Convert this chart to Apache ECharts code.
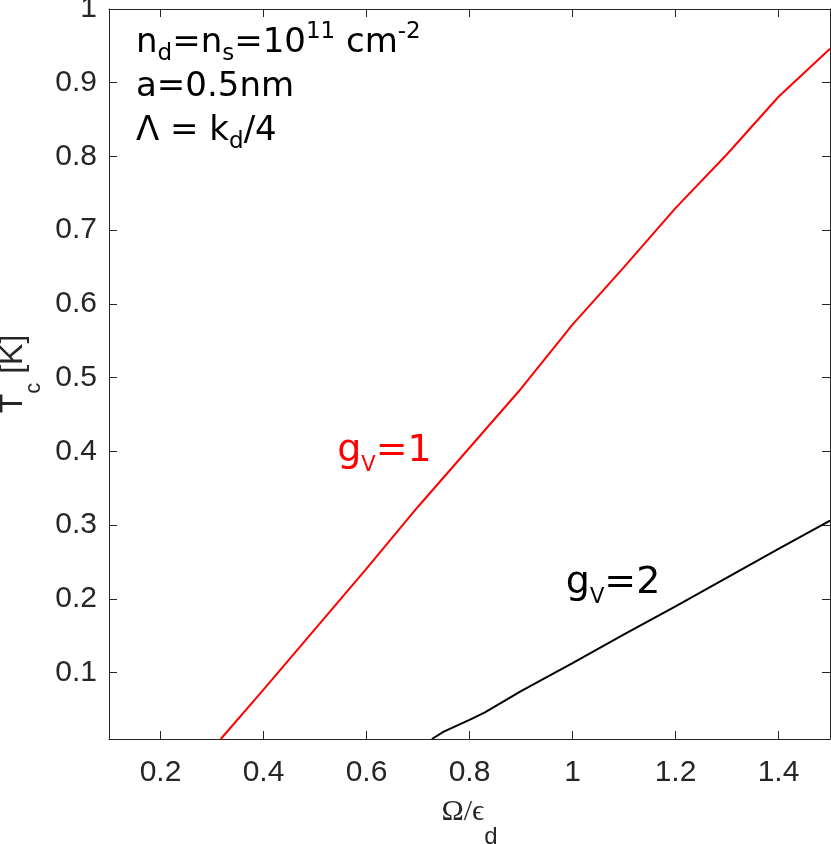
<!DOCTYPE html>
<html>
<head>
<meta charset="utf-8">
<script src="https://cdn.jsdelivr.net/npm/echarts@6/dist/echarts.min.js"></script>
<style>
  html, body { margin: 0; padding: 0; background: #fff; }
  #main { width: 831px; height: 844px; }
</style>
</head>
<body>
<div id="main"></div>
<script>
// g_V = 1 curve (red)
var xRed = [0.317, 0.4, 0.5, 0.6, 0.7, 0.8, 0.9, 1.0, 1.1, 1.2, 1.3, 1.4, 1.5];
var yRed = [0.01, 0.077, 0.159, 0.241, 0.325, 0.405, 0.485, 0.572, 0.65, 0.73, 0.803, 0.881, 0.946];

// g_V = 2 curve (black)
var xBlack = [0.727, 0.75, 0.8, 0.83, 0.9, 1.0, 1.1, 1.2, 1.3, 1.4, 1.5];
var yBlack = [0.01, 0.02, 0.036, 0.046, 0.075, 0.113, 0.152, 0.19, 0.229, 0.268, 0.306];

// tick labels
var xTicks = [0.2, 0.4, 0.6, 0.8, 1, 1.2, 1.4];
var yTicks = [0.1, 0.2, 0.3, 0.4, 0.5, 0.6, 0.7, 0.8, 0.9, 1];

function pairs(xs, ys) {
  return xs.map(function (x, i) { return [x, ys[i]]; });
}

var axisCol = '#262626';
var tickFont = "'Liberation Sans', Arial, Helvetica, sans-serif";
var vFont = "'DejaVu Sans', Verdana, sans-serif";

function xAx(pos, show) {
  return {
    type: 'value', position: pos, min: 0.1, max: 1.5,
    axisLine: { show: true, onZero: false, lineStyle: { color: axisCol, width: 1 } },
    axisTick: { show: true, inside: true, length: 8, customValues: xTicks, lineStyle: { color: axisCol } },
    axisLabel: { show: show, customValues: xTicks, margin: 19, color: axisCol, fontSize: 30, fontFamily: tickFont },
    splitLine: { show: false }
  };
}
function yAx(pos, show) {
  return {
    type: 'value', position: pos, min: 0.01, max: 1,
    axisLine: { show: true, onZero: false, lineStyle: { color: axisCol, width: 1 } },
    axisTick: { show: true, inside: true, length: 8, customValues: yTicks, lineStyle: { color: axisCol } },
    axisLabel: { show: show, customValues: yTicks, margin: 12, color: axisCol, fontSize: 30, fontFamily: tickFont },
    splitLine: { show: false }
  };
}

var xMain = xAx('bottom', true);
xMain.name = '{o|Ω/ϵ}{d|d}';
xMain.nameLocation = 'middle';
xMain.nameGap = 57;
xMain.nameMoveOverlap = false;
xMain.nameTextStyle = {
  color: axisCol,
  rich: {
    o: { fontSize: 30, fontFamily: "'Liberation Serif', 'DejaVu Serif', serif", color: axisCol, lineHeight: 32 },
    d: { fontSize: 24, fontFamily: tickFont, color: axisCol, lineHeight: 32, padding: [50, 0, 0, 0] }
  }
};

var yMain = yAx('left', true);
yMain.name = '{m|T}{s|c}{m| [K]}';
yMain.nameLocation = 'middle';
yMain.nameGap = 80;
yMain.nameMoveOverlap = false;
yMain.nameTextStyle = {
  color: axisCol,
  rich: {
    m: { fontSize: 32, fontFamily: tickFont, color: axisCol, lineHeight: 32 },
    s: { fontSize: 22, fontFamily: tickFont, color: axisCol, lineHeight: 32, padding: [41, 0, 0, 0] }
  }
};

function gvRich(col) {
  return {
    g: { fontSize: 38, fontFamily: vFont, color: col, lineHeight: 38 },
    v: { fontSize: 21, fontFamily: vFont, color: col, lineHeight: 38, padding: [28, 0, 0, 0] }
  };
}

var option = {
  animation: false,
  backgroundColor: '#fff',
  grid: { left: 109, right: 1, top: 9, bottom: 105, containLabel: false, outerBoundsMode: 'none' },
  xAxis: [xMain, xAx('top', false)],
  yAxis: [yMain, yAx('right', false)],
  graphic: [{
    type: 'text', left: 136, top: 21,
    style: {
      text: '{m|n}{sb|d}{m|=n}{sb|s}{m|=10}{sp|11}{m| cm}{sp|-2}\n{m|a=0.5nm}\n{m|Λ = k}{sb|d}{m|/4}',
      fill: '#000',
      rich: {
        m: { fontSize: 34, fontFamily: vFont, fill: '#000', lineHeight: 44 },
        sb: { fontSize: 23, fontFamily: vFont, fill: '#000', lineHeight: 44, padding: [21, 0, 0, 0] },
        sp: { fontSize: 23, fontFamily: vFont, fill: '#000', lineHeight: 44, padding: [0, 0, 22, 0] }
      }
    }
  }],
  series: [
    {
      name: 'gV=1', type: 'line', data: pairs(xRed, yRed), showSymbol: false, symbol: 'none',
      lineStyle: { color: '#ff0000', width: 2 },
      markPoint: {
        symbol: 'circle', symbolSize: 0, silent: true,
        label: { show: true, position: 'right', distance: 0, formatter: '{g|g}{v|V}{g|=1}', rich: gvRich('#ff0000') },
        data: [{ coord: [0.543, 0.4] }]
      }
    },
    {
      name: 'gV=2', type: 'line', data: pairs(xBlack, yBlack), showSymbol: false, symbol: 'none',
      lineStyle: { color: '#000000', width: 2 },
      markPoint: {
        symbol: 'circle', symbolSize: 0, silent: true,
        label: { show: true, position: 'right', distance: 0, formatter: '{g|g}{v|V}{g|=2}', rich: gvRich('#000000') },
        data: [{ coord: [0.987, 0.221] }]
      }
    }
  ]
};

var myChart = echarts.init(document.getElementById('main'));
myChart.setOption(option);
</script>
</body>
</html>
